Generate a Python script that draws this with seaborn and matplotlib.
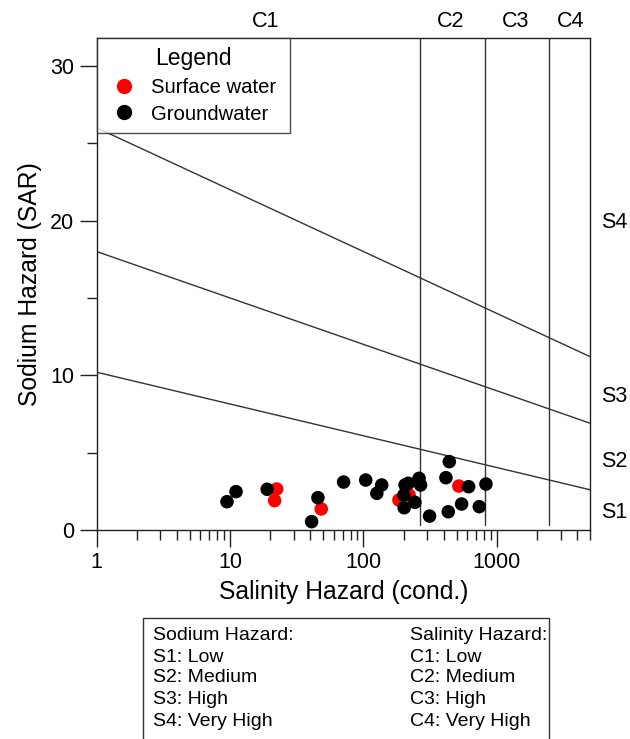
import matplotlib
matplotlib.use("Agg")
import matplotlib.pyplot as plt
from matplotlib.lines import Line2D
from matplotlib.patches import Rectangle
import matplotlib.ticker as mticker
import seaborn as sns
import pandas as pd
import numpy as np

# ---- data ----
gw_cond = [9.5, 11.1, 19.0, 45.6, 40.9, 71, 104, 137, 126, 205, 217, 261, 268,
           201, 202, 243, 313, 440, 415, 614, 828, 544, 432, 738]
gw_sar = [1.83, 2.48, 2.63, 2.09, 0.54, 3.10, 3.23, 2.91, 2.37, 2.91, 3.02, 3.34, 2.91,
          2.26, 1.44, 1.79, 0.90, 4.42, 3.38, 2.80, 2.97, 1.68, 1.18, 1.51]
sw_cond = [22.4, 21.6, 48.3, 184.5, 220, 519]
sw_sar = [2.65, 1.90, 1.36, 1.94, 2.26, 2.84]

groups = ["Surface water", "Groundwater"]
colors = ["#ff0000", "#000000"]

# class boundaries
c_bounds = [265, 810, 2450]
c_labels = ["C1", "C2", "C3", "C4"]
c_label_x = [18.6, 452, 1387, 3580]
s_line_x = [1, 5000]
s_line_y = [[10.2, 2.6], [18.0, 6.9], [26.0, 11.2]]
s_labels = ["S1", "S2", "S3", "S4"]
s_label_y = [1.1, 4.4, 8.6, 19.9]

x_ticks = [1, 10, 100, 1000]
x_ticklabels = ["1", "10", "100", "1000"]
y_ticks = [0, 10, 20, 30]

sodium_text = ["Sodium Hazard:", "S1: Low", "S2: Medium", "S3: High", "S4: Very High"]
salinity_text = ["Salinity Hazard:", "C1: Low", "C2: Medium", "C3: High", "C4: Very High"]

df = pd.DataFrame({
    "cond": sw_cond + gw_cond,
    "sar": sw_sar + gw_sar,
    "type": [groups[0]] * len(sw_cond) + [groups[1]] * len(gw_cond),
})

sns.set_style("ticks")
plt.rcParams["font.family"] = ["Liberation Sans", "DejaVu Sans"]
plt.rcParams["axes.linewidth"] = 1.0
plt.rcParams["text.color"] = "black"
plt.rcParams["axes.labelcolor"] = "black"
plt.rcParams["xtick.color"] = "black"
plt.rcParams["ytick.color"] = "black"

fig = plt.figure(figsize=(6.3, 7.39), dpi=100)
ax = fig.add_axes([0.1532, 0.2828, 0.7836, 0.6658])

lc = "#333333"
for xb in c_bounds:
    ax.plot([xb, xb], [0.3, 31.8], color=lc, lw=1.0, zorder=1)
for yy in s_line_y:
    ax.plot(s_line_x, yy, color=lc, lw=1.0, zorder=1)

sns.scatterplot(data=df, x="cond", y="sar", hue="type", hue_order=groups,
                palette=colors, s=95, edgecolor="none", linewidth=0,
                legend=False, ax=ax, zorder=3)

ax.set_xscale("log")
ax.set_xlim(1, 5000)
ax.set_ylim(0, 31.8)
ax.set_xticks(x_ticks)
ax.set_xticklabels(x_ticklabels)
ax.xaxis.set_minor_locator(mticker.LogLocator(base=10, subs=np.arange(2, 10)))
ax.xaxis.set_minor_formatter(mticker.NullFormatter())
ax.set_yticks(y_ticks)
ax.yaxis.set_minor_locator(mticker.MultipleLocator(5))
ax.tick_params(axis="both", which="major", direction="out", length=12, width=1,
               labelsize=15.5, pad=4, color="#222222", labelcolor="black")
ax.tick_params(axis="both", which="minor", direction="out", length=7, width=1,
               color="#222222")
for sp in ax.spines.values():
    sp.set_visible(True)
    sp.set_color("#222222")

ax.set_xlabel("Salinity Hazard (cond.)", fontsize=17.8, labelpad=5)
ax.set_ylabel("Sodium Hazard (SAR)", fontsize=17.8, labelpad=6)

trans_c = matplotlib.transforms.blended_transform_factory(ax.transData, ax.transAxes)
for lab, xl in zip(c_labels, c_label_x):
    ax.text(xl, 1.033, lab, transform=trans_c, ha="center", va="center", fontsize=15.5)
trans_s = matplotlib.transforms.blended_transform_factory(ax.transAxes, ax.transData)
for lab, yl in zip(s_labels, s_label_y):
    ax.text(1.022, yl, lab, transform=trans_s, ha="left", va="center", fontsize=15.5)

handles = [Line2D([0], [0], marker="o", linestyle="none", markersize=11,
                  markerfacecolor=c, markeredgecolor="none") for c in colors]
leg = ax.legend(handles, groups, title="Legend", loc="upper left",
                bbox_to_anchor=(0, 0, 0.391, 1), mode="expand",
                borderaxespad=0, fontsize=14.6,
                title_fontsize=16.5, frameon=True, fancybox=False,
                handletextpad=0.45, borderpad=0.45, labelspacing=0.38,
                handlelength=1.8)
leg.get_frame().set_edgecolor("#222222")
leg.get_frame().set_linewidth(1.0)
leg.set_zorder(5)

# bottom explanation box
fig.patches.append(Rectangle((143 / 630, -0.02), (549 - 143) / 630, 0.02 + (739 - 618) / 739,
                             transform=fig.transFigure, fill=False, edgecolor="#333333", lw=1.0))
ys = [635, 657, 678, 700, 721]
for t1, t2, yp in zip(sodium_text, salinity_text, ys):
    fig.text(153 / 630, 1 - yp / 739, t1, ha="left", va="center", fontsize=14)
    fig.text(410 / 630, 1 - yp / 739, t2, ha="left", va="center", fontsize=14)

fig.savefig("out.png", dpi=100)
